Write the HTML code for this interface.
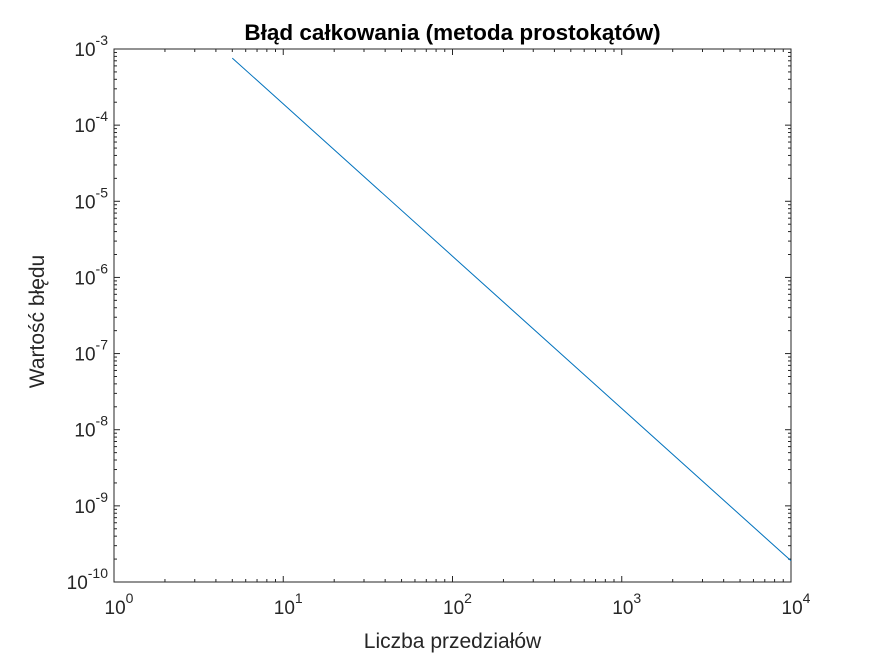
<!DOCTYPE html>
<html><head><meta charset="utf-8"><style>
body{margin:0;background:#fff;}
svg{display:block;font-family:"Liberation Sans",Arial,sans-serif;}
</style></head><body>
<svg id="c" width="875" height="656"></svg>
<script>
const xTickExps=[0,1,2,3,4];
const yTickExps=[-3,-4,-5,-6,-7,-8,-9,-10];
const intervals=[5,10,100,1000,10000];
const errors=[7.6e-4,1.9e-4,1.9e-6,1.9e-8,1.9e-10];
const L=114,R=791,T=49,B=582;
const xMin=0,xMax=4,yMin=-10,yMax=-3;
const sx=v=>L+(Math.log10(v)-xMin)/(xMax-xMin)*(R-L);
const sy=v=>B-(Math.log10(v)-yMin)/(yMax-yMin)*(B-T);
const svg=document.getElementById('c');
const NS='http://www.w3.org/2000/svg';
function mk(tag,attrs,parent){const e=document.createElementNS(NS,tag);for(const k in attrs)e.setAttribute(k,attrs[k]);(parent||svg).appendChild(e);return e;}
const col='#262626';
const box=mk('rect',{x:L,y:T,width:R-L,height:B-T,fill:'#fff',stroke:col,'stroke-width':1});


const tg=mk('g',{stroke:col,'stroke-width':1});


for(let e=xMin;e<=xMax;e++){
  const x=sx(Math.pow(10,e));
  mk('line',{x1:x,x2:x,y1:B,y2:B-6},tg);mk('line',{x1:x,x2:x,y1:T,y2:T+6},tg);
  if(e<xMax)for(let m=2;m<10;m++){const xm=sx(m*Math.pow(10,e));mk('line',{x1:xm,x2:xm,y1:B,y2:B-3},tg);mk('line',{x1:xm,x2:xm,y1:T,y2:T+3},tg);}
}
for(let e=yMin;e<=yMax;e++){
  const y=sy(Math.pow(10,e));
  mk('line',{x1:L,x2:L+6,y1:y,y2:y},tg);mk('line',{x1:R,x2:R-6,y1:y,y2:y},tg);
  if(e<yMax)for(let m=2;m<10;m++){const ym=sy(m*Math.pow(10,e));mk('line',{x1:L,x2:L+3,y1:ym,y2:ym},tg);mk('line',{x1:R,x2:R-3,y1:ym,y2:ym},tg);}
}
xTickExps.forEach(e=>{
  const t=mk('text',{x:sx(Math.pow(10,e))+5,y:B+32,'text-anchor':'middle',fill:col,'font-size':19});
  
  
  t.innerHTML='10<tspan dy="-11" font-size="14">'+e+'</tspan>';
});
yTickExps.forEach(e=>{
  const t=mk('text',{x:L-6,y:sy(Math.pow(10,e))+7,'text-anchor':'end',fill:col,'font-size':19});
  
  
  t.innerHTML='10<tspan dy="-11" font-size="14">'+e+'</tspan>';
});
const line=mk('polyline',{fill:'none',stroke:'#0072bd','stroke-width':1,points:intervals.map((n,i)=>sx(n)+','+sy(errors[i])).join(' ')});


const title=mk('text',{x:(L+R)/2,y:40,'text-anchor':'middle','font-size':22.5,'font-weight':'bold',fill:'#000'});
title.textContent='Błąd całkowania (metoda prostokątów)';


const xt=mk('text',{x:(L+R)/2,y:648,'text-anchor':'middle','font-size':21,fill:col});
xt.textContent='Liczba przedziałów';


const yt=mk('text',{x:0,y:0,'text-anchor':'middle','font-size':21,fill:col,transform:'translate(44,'+((T+B)/2+6)+') rotate(-90)'});
yt.textContent='Wartość błędu';


</script>
</body></html>
